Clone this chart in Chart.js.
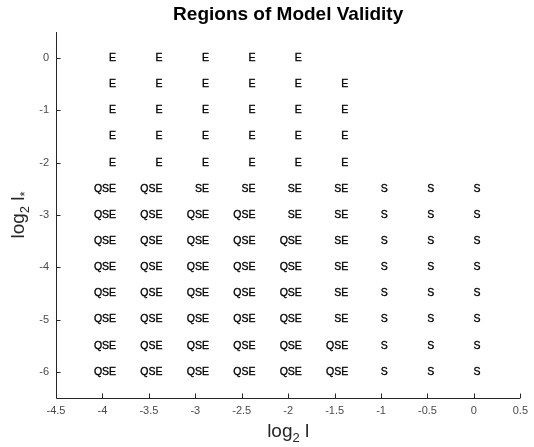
<!DOCTYPE html>
<html>
<head>
<meta charset="utf-8">
<script src="https://cdn.jsdelivr.net/npm/chart.js@4.4.1/dist/chart.umd.min.js"></script>
<style>
  html, body { margin: 0; padding: 0; background: #fff; }
  #wrap { width: 534px; height: 447px; }
</style>
</head>
<body>
<div id="wrap"><canvas id="validity" width="534" height="447"></canvas></div>
<script>
(function () {
  'use strict';

  var FONT = '"Liberation Sans", Arial, Helvetica, sans-serif';

  // grid of (log2 l, log2 l*) points and which models hold there
  var xPositions = [-4, -3.5, -3, -2.5, -2, -1.5, -1, -0.5, 0];
  var yPositions = [0, -0.5, -1, -1.5, -2, -2.5, -3, -3.5, -4, -4.5, -5, -5.5, -6];
  var regionRows = [
    ['E', 'E', 'E', 'E', 'E', '', '', '', ''],
    ['E', 'E', 'E', 'E', 'E', 'E', '', '', ''],
    ['E', 'E', 'E', 'E', 'E', 'E', '', '', ''],
    ['E', 'E', 'E', 'E', 'E', 'E', '', '', ''],
    ['E', 'E', 'E', 'E', 'E', 'E', '', '', ''],
    ['QSE', 'QSE', 'SE', 'SE', 'SE', 'SE', 'S', 'S', 'S'],
    ['QSE', 'QSE', 'QSE', 'QSE', 'SE', 'SE', 'S', 'S', 'S'],
    ['QSE', 'QSE', 'QSE', 'QSE', 'QSE', 'SE', 'S', 'S', 'S'],
    ['QSE', 'QSE', 'QSE', 'QSE', 'QSE', 'SE', 'S', 'S', 'S'],
    ['QSE', 'QSE', 'QSE', 'QSE', 'QSE', 'SE', 'S', 'S', 'S'],
    ['QSE', 'QSE', 'QSE', 'QSE', 'QSE', 'SE', 'S', 'S', 'S'],
    ['QSE', 'QSE', 'QSE', 'QSE', 'QSE', 'QSE', 'S', 'S', 'S'],
    ['QSE', 'QSE', 'QSE', 'QSE', 'QSE', 'QSE', 'S', 'S', 'S']
  ];

  var xTicks = [-4.5, -4, -3.5, -3, -2.5, -2, -1.5, -1, -0.5, 0, 0.5];
  var yTicks = [-6, -5, -4, -3, -2, -1, 0];

  var points = [];
  var labels = [];
  regionRows.forEach(function (row, r) {
    row.forEach(function (txt, c) {
      if (!txt) return;
      points.push({ x: xPositions[c], y: yPositions[r] });
      labels.push(txt);
    });
  });

  // letters keep fixed columns Q | S | E so partial labels line up
  function drawRegionLabel(ctx, txt, x, y) {
    var order = 'QSE';
    var cx = x - 8.5;
    for (var i = 0; i < order.length; i++) {
      var ch = order[i];
      if (txt.indexOf(ch) >= 0) {
        ctx.fillText(ch, cx, y);
        ctx.strokeText(ch, cx, y);
      }
      cx += ctx.measureText(ch).width;
    }
  }

  // text with subscripts: parts = [[text, isSub], ...]
  function measureParts(ctx, parts, size, subSize) {
    var w = 0;
    parts.forEach(function (p) {
      ctx.font = (p[1] ? subSize : size) + 'px ' + FONT;
      w += ctx.measureText(p[0]).width;
    });
    return w;
  }
  function drawParts(ctx, parts, x, y, size, subSize, subDrop) {
    parts.forEach(function (p) {
      ctx.font = (p[1] ? subSize : size) + 'px ' + FONT;
      ctx.fillText(p[0], x, y + (p[1] ? subDrop : 0));
      x += ctx.measureText(p[0]).width;
    });
  }

  var decorations = {
    id: 'decorations',
    afterDatasetsDraw: function (chart) {
      var ctx = chart.ctx;
      var area = chart.chartArea;
      var xs = chart.scales.x;
      var ys = chart.scales.y;

      ctx.save();

      // axes lines with inward ticks
      ctx.strokeStyle = '#262626';
      ctx.lineWidth = 1;
      ctx.beginPath();
      ctx.moveTo(area.left + 0.5, area.top);
      ctx.lineTo(area.left + 0.5, area.bottom + 0.5);
      ctx.lineTo(area.right, area.bottom + 0.5);
      xTicks.forEach(function (v) {
        var px = Math.round(xs.getPixelForValue(v)) + 0.5;
        ctx.moveTo(px, area.bottom);
        ctx.lineTo(px, area.bottom - 4.5);
      });
      yTicks.forEach(function (v) {
        var py = Math.round(ys.getPixelForValue(v)) + 0.5;
        ctx.moveTo(area.left, py);
        ctx.lineTo(area.left + 4.5, py);
      });
      ctx.stroke();

      // region labels at each data point
      ctx.fillStyle = '#000';
      ctx.strokeStyle = '#000';
      ctx.lineWidth = 0.35;
      ctx.font = '10.5px ' + FONT;
      ctx.textAlign = 'left';
      ctx.textBaseline = 'middle';
      var meta = chart.getDatasetMeta(0);
      meta.data.forEach(function (el, i) {
        drawRegionLabel(ctx, labels[i], el.x, el.y);
      });

      // title
      var midX = (area.left + area.right) / 2;
      ctx.fillStyle = '#000';
      ctx.textAlign = 'center';
      ctx.textBaseline = 'alphabetic';
      ctx.font = 'bold 19px ' + FONT;
      ctx.fillText('Regions of Model Validity', midX, 20);

      // x axis title
      ctx.textAlign = 'left';
      ctx.fillStyle = '#262626';
      var xParts = [['log', false], ['2', true], [' l', false]];
      var w = measureParts(ctx, xParts, 19, 13);
      drawParts(ctx, xParts, midX - w / 2, 437, 19, 13, 5);

      // y axis title, rotated
      var midY = (area.top + area.bottom) / 2;
      var yParts = [['log', false], ['2', true], [' l', false], ['*', true]];
      var wy = measureParts(ctx, yParts, 19, 13);
      ctx.translate(24, midY);
      ctx.rotate(-Math.PI / 2);
      drawParts(ctx, yParts, -wy / 2, 0, 19, 13, 5);

      ctx.restore();
    }
  };

  var tickFont = { family: FONT, size: 11 };

  new Chart(document.getElementById('validity').getContext('2d'), {
    type: 'scatter',
    data: {
      datasets: [{
        data: points,
        pointRadius: 0,
        pointHoverRadius: 0
      }]
    },
    options: {
      responsive: false,
      animation: false,
      events: [],
      layout: { padding: { top: 32, right: 9, left: 0, bottom: 0 } },
      plugins: {
        legend: { display: false },
        tooltip: { enabled: false },
        title: { display: false }
      },
      scales: {
        x: {
          type: 'linear',
          min: -4.5,
          max: 0.5,
          grid: { display: false, drawTicks: false },
          border: { display: false },
          afterBuildTicks: function (scale) {
            scale.ticks = xTicks.map(function (v) { return { value: v }; });
          },
          afterFit: function (scale) { scale.height = 49; },
          ticks: {
            autoSkip: false,
            maxRotation: 0,
            padding: 6,
            color: '#4a4a4a',
            font: tickFont,
            callback: function (v) { return String(v); }
          }
        },
        y: {
          type: 'linear',
          min: -6.5,
          max: 0.5,
          grid: { display: false, drawTicks: false },
          border: { display: false },
          afterBuildTicks: function (scale) {
            scale.ticks = yTicks.map(function (v) { return { value: v }; });
          },
          afterFit: function (scale) { scale.width = 56; },
          ticks: {
            autoSkip: false,
            padding: 7,
            color: '#4a4a4a',
            font: tickFont,
            callback: function (v) { return String(v); }
          }
        }
      }
    },
    plugins: [decorations]
  });
})();
</script>
</body>
</html>
